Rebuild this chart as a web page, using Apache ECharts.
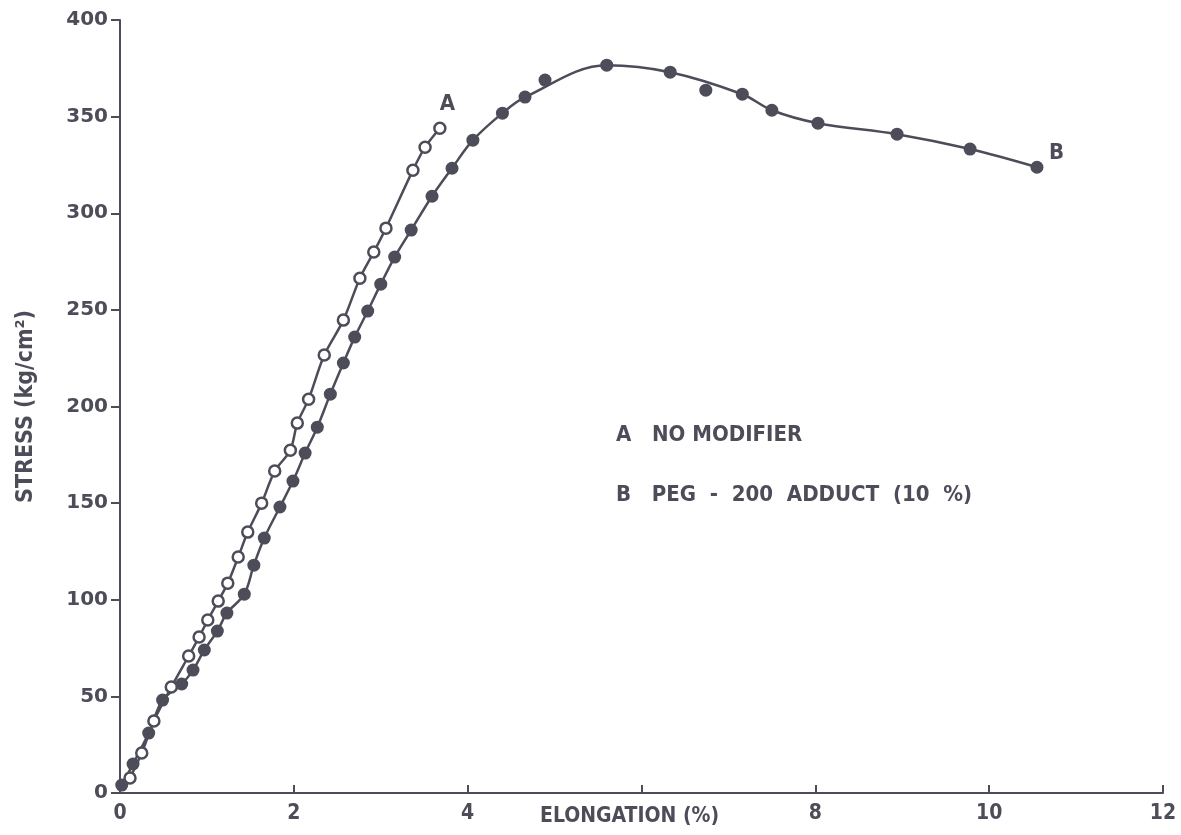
<!DOCTYPE html>
<html lang="en">
<head>
    <meta charset="UTF-8">
    <title>Stress - Elongation</title>
    <script src="https://cdn.jsdelivr.net/npm/echarts@6/dist/echarts.min.js"></script>
    <style>
        html, body { margin: 0; padding: 0; background: #fff; }
        #main { width: 1181px; height: 835px; }
    </style>
</head>
<body>
<div id="main"></div>
<script>
    // elongation (%) / stress (kg/cm2)
    var elongA = [0.115, 0.25, 0.39, 0.59, 0.79, 0.91, 1.01, 1.13, 1.24, 1.36, 1.47, 1.63, 1.78, 1.96, 2.04, 2.17, 2.35, 2.57, 2.76, 2.92, 3.06, 3.37, 3.51, 3.68];
    var stressA = [7.8, 20.7, 37.3, 54.8, 70.9, 80.7, 89.5, 99.3, 108.6, 122.1, 135.0, 150.0, 166.6, 177.4, 191.4, 203.8, 226.6, 244.7, 266.4, 279.9, 292.3, 322.3, 334.2, 344.0];

    var elongB = [0.02, 0.15, 0.33, 0.49, 0.71, 0.84, 0.97, 1.12, 1.23, 1.43, 1.54, 1.66, 1.84, 1.99, 2.13, 2.27, 2.42, 2.57, 2.70, 2.85, 3.00, 3.16, 3.35, 3.59, 3.82, 4.06, 4.40, 4.66, 4.89, 5.60, 6.33, 6.74, 7.16, 7.50, 8.03, 8.94, 9.78, 10.55];
    var stressB = [4.1, 15.0, 31.0, 48.1, 56.4, 63.6, 74.0, 83.8, 93.1, 102.9, 117.9, 131.9, 148.0, 161.4, 175.9, 189.3, 206.4, 222.5, 235.9, 249.4, 263.3, 277.3, 291.3, 308.8, 323.3, 337.8, 351.8, 360.1, 368.9, 376.6, 373.0, 363.7, 361.6, 353.3, 346.6, 340.9, 333.2, 323.8];
    // points of B that sit off the drawn (fitted) curve
    var offCurveB = [28, 31];

    var xTicks = ['0', '2', '4', '', '8', '10', '12'];   // 6 is covered by the axis title
    var yTicks = ['0', '50', '100', '150', '200', '250', '300', '350', '400'];

    var ink = '#4d4d5a';
    var font = 'DejaVu Sans Condensed';

    function pairs(xs, ys, skip) {
        var out = [];
        for (var i = 0; i < xs.length; i++) {
            if (skip && skip.indexOf(i) >= 0) continue;
            out.push([xs[i], ys[i]]);
        }
        return out;
    }

    var myChart = echarts.init(document.getElementById('main'));

    option = {
        backgroundColor: '#fff',
        animation: false,
        grid: { left: 120, right: 18, top: 20, bottom: 42 },
        xAxis: {
            type: 'value',
            min: 0, max: 12, interval: 2,
            splitLine: { show: false },
            axisLine: { lineStyle: { color: ink, width: 2 } },
            axisTick: { inside: true, length: 8, lineStyle: { color: ink, width: 2 } },
            axisLabel: {
                color: ink, fontFamily: font, fontWeight: 'bold', fontSize: 21, margin: 10,
                formatter: function (v) { return xTicks[v / 2]; }
            }
        },
        yAxis: {
            type: 'value',
            min: 0, max: 400, interval: 50,
            name: 'STRESS (kg/cm²)',
            nameLocation: 'middle',
            nameGap: 82,
            nameTextStyle: { color: ink, fontFamily: font, fontWeight: 'bold', fontSize: 23 },
            splitLine: { show: false },
            axisLine: { show: true, lineStyle: { color: ink, width: 2 } },
            axisTick: { show: true, length: 9, lineStyle: { color: ink, width: 2 } },
            axisLabel: {
                color: ink, fontFamily: 'DejaVu Sans', fontWeight: 'bold', fontSize: 20, margin: 12,
                formatter: function (v) { return yTicks[v / 50]; }
            }
        },
        graphic: [
            { type: 'text', left: 540, top: 806, style: { text: 'ELONGATION (%)', fill: ink, font: 'bold 21px "DejaVu Sans Condensed"' } },
            { type: 'text', left: 616, top: 424, style: { text: 'A   NO MODIFIER', fill: ink, font: 'bold 22px "DejaVu Sans Condensed"' } },
            { type: 'text', left: 616, top: 484, style: { text: 'B   PEG  -  200  ADDUCT  (10  %)', fill: ink, font: 'bold 22px "DejaVu Sans Condensed"' } }
        ],
        series: [
            {
                name: 'B curve',
                type: 'line',
                data: pairs(elongB, stressB, offCurveB),
                smooth: 0.35,
                showSymbol: false,
                lineStyle: { color: ink, width: 2.5 },
                endLabel: { show: true, formatter: 'B', color: ink, fontFamily: font, fontWeight: 'bold', fontSize: 22, offset: [4, -14] },
                z: 2
            },
            {
                name: 'B',
                type: 'scatter',
                data: pairs(elongB, stressB),
                symbol: 'circle',
                symbolSize: 13,
                itemStyle: { color: ink, opacity: 1 },
                z: 3
            },
            {
                name: 'A',
                type: 'line',
                data: pairs(elongA, stressA),
                smooth: 0.3,
                symbol: 'circle',
                symbolSize: 11,
                lineStyle: { color: ink, width: 2.5 },
                itemStyle: { color: '#fff', borderColor: ink, borderWidth: 2.5 },
                endLabel: { show: true, formatter: 'A', color: ink, fontFamily: font, fontWeight: 'bold', fontSize: 22, offset: [-8, -24] },
                z: 4
            }
        ]
    };

    myChart.setOption(option);
</script>
</body>
</html>
